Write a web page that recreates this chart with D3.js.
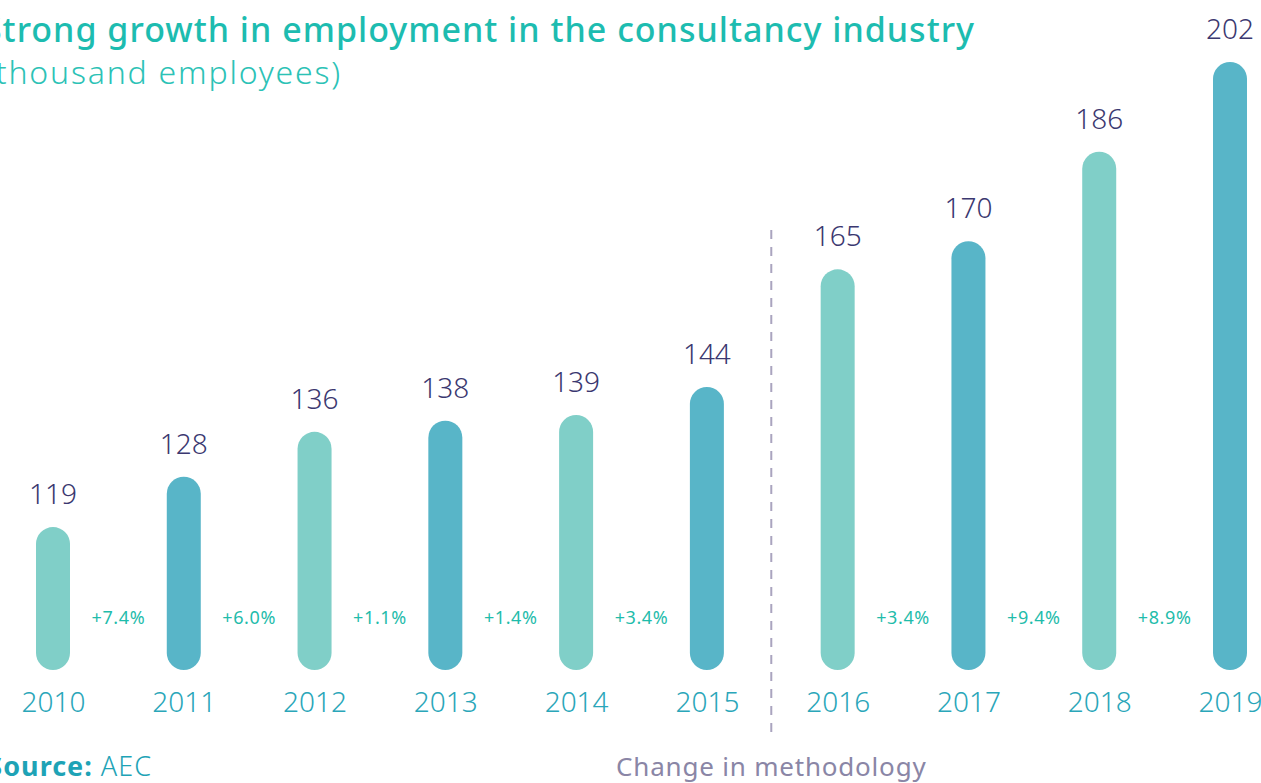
<!DOCTYPE html>
<html>
<head>
<meta charset="utf-8">
<script src="https://cdnjs.cloudflare.com/ajax/libs/d3/7.8.5/d3.min.js"></script>
<style>
  body { margin: 0; background: #fff; overflow: hidden; }
  text { font-family: "Noto Sans", "Open Sans", sans-serif; }
</style>
</head>
<body>
<div id="chart"></div>
<script>
// data
var years = ["2010","2011","2012","2013","2014","2015","2016","2017","2018","2019"];
var employees = [119, 128, 136, 138, 139, 144, 165, 170, 186, 202];
// change from one year to the next, no figure across the methodology break
var growth = ["+7.4%","+6.0%","+1.1%","+1.4%","+3.4%", "", "+3.4%","+9.4%","+8.9%"];

var width = 1261,
	height = 783,
	barWidth = 34,
	lightColor = "#80cfc8",
	darkColor = "#58b5c8";

var svg = d3.select("#chart")
	.append("svg")
	.attr("width", width)
	.attr("height", height);

// x positions of bar centres
var x = d3.scalePoint()
	.domain(years)
	.range([53, 1230]);

// bars don't start at zero in the original
var y = d3.scaleLinear()
	.domain([93.5, 202])
	.range([670, 62]);

// title (clipped at left edge like the original)
svg.append("text")
	.attr("x", 975)
	.attr("y", 42)
	.attr("text-anchor", "end")
	.attr("fill", "#1dbcb0")
	.style("font-size", "34px")
	.style("font-weight", 500)
	.style("letter-spacing", "1px")
	.text("Strong growth in employment in the consultancy industry");

svg.append("text")
	.attr("x", 342)
	.attr("y", 84)
	.attr("text-anchor", "end")
	.attr("fill", "#2cc2b6")
	.style("font-size", "32px")
	.style("font-weight", 300)
	.style("letter-spacing", "1.8px")
	.text("(thousand employees)");

// methodology divider
var divX = (x("2015") + x("2016")) / 2 - 1;
svg.append("line")
	.attr("x1", divX).attr("x2", divX)
	.attr("y1", 230).attr("y2", 740)
	.attr("stroke", "#aaa4bf")
	.attr("stroke-width", 2)
	.attr("stroke-dasharray", "9,8");

svg.append("text")
	.attr("x", divX)
	.attr("y", 776)
	.attr("text-anchor", "middle")
	.attr("fill", "#8a86a6")
	.style("font-size", "26px")
	.style("letter-spacing", "0.8px")
	.text("Change in methodology");

// bars
svg.selectAll("rect.bar")
	.data(employees)
	.enter()
	.append("rect")
	.attr("class", "bar")
	.attr("x", function(d, i){ return x(years[i]) - barWidth/2; })
	.attr("y", function(d){ return y(d); })
	.attr("width", barWidth)
	.attr("height", function(d){ return y.range()[0] - y(d); })
	.attr("rx", barWidth/2)
	.attr("ry", barWidth/2)
	.attr("fill", function(d, i){ return i % 2 === 0 ? lightColor : darkColor; });

// value labels
svg.selectAll("text.val")
	.data(employees)
	.enter()
	.append("text")
	.attr("class", "val")
	.attr("x", function(d, i){ return x(years[i]); })
	.attr("y", function(d){ return y(d) - 23; })
	.attr("text-anchor", "middle")
	.attr("fill", "#3b3870")
	.style("font-size", "28px")
	.style("font-weight", 300)
	.text(function(d){ return d; });

// year axis
var xAxis = svg.append("g")
	.attr("transform", "translate(0,712)")
	.call(d3.axisBottom(x).tickSize(0).tickPadding(0));
xAxis.select(".domain").remove();
xAxis.selectAll("text")
	.attr("dy", 0)
	.attr("fill", "#2aa6b9")
	.style("font-size", "28px")
	.style("font-weight", 300)
	.style("font-family", "\"Noto Sans\", sans-serif");

// growth labels between bars
svg.selectAll("text.growth")
	.data(growth)
	.enter()
	.append("text")
	.attr("class", "growth")
	.attr("x", function(d, i){ return (x(years[i]) + x(years[i+1])) / 2; })
	.attr("y", 624)
	.attr("text-anchor", "middle")
	.attr("fill", "#1fbcab")
	.style("font-size", "18px")
	.style("letter-spacing", "0.6px")
	.text(function(d){ return d; });

// source
var src = svg.append("text")
	.attr("x", 152)
	.attr("y", 776)
	.attr("text-anchor", "end")
	.attr("fill", "#1ea3b6")
	.style("font-size", "27px")
	.style("letter-spacing", "1px");
src.append("tspan").style("font-weight", 700).text("Source: ");
src.append("tspan").style("font-weight", 300).text("AEC");
</script>
</body>
</html>
